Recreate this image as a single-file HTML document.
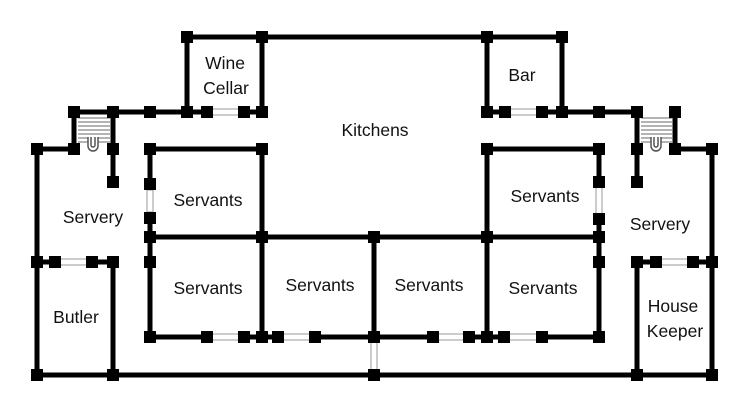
<!DOCTYPE html>
<html><head><style>body{margin:0;background:#fff}svg{display:block}text{font-family:"Liberation Sans",sans-serif;font-size:17.5px;fill:#111}</style></head><body>
<svg width="750" height="414" viewBox="0 0 750 414" xmlns="http://www.w3.org/2000/svg">
<g stroke="#000" stroke-width="5" fill="none" stroke-linecap="square">
<path d="M187 37H562M187 37V112M262 37V112M262 149V337M487 37V112M562 37V112"/>
<path d="M74 112H187M187 112H212M241 112H262M487 112H508M538 112H637M74 112V149M113 112V182M637 112V182M675 112V149"/>
<path d="M37 149H74M675 149H712M37 149V375M712 149V375M37 375H712"/>
<path d="M150 149H262M487 149H599M150 149V190M150 212V337M599 149V186M599 215V337M150 237H599M374 237V340M487 149V337"/>
<path d="M150 337H210M240 337H438M466 337H508M538 337H599"/>
<path d="M37 262H58M88 262H113M113 262V375M637 262H659M690 262H712M637 262V375"/>
</g>
<g stroke="#999" stroke-width="1" fill="#fff">
<rect x="212" y="109" width="29" height="6"/><rect x="508" y="109" width="30" height="6"/>
<rect x="147" y="190" width="6" height="22"/><rect x="596" y="186" width="6" height="29"/>
<rect x="210" y="334" width="30" height="6"/><rect x="281" y="334" width="30" height="6"/>
<rect x="438" y="334" width="28" height="6"/><rect x="508" y="334" width="30" height="6"/>
<rect x="371" y="340" width="6" height="30"/>
<rect x="58" y="259" width="30" height="6"/><rect x="659" y="259" width="31" height="6"/>
</g>
<g stroke="#888" stroke-width="1.2">
<path d="M78 118H110M78 122H110M78 126H110M78 130H110M78 134H110M78 138H110M78 142H110"/>
<path d="M641 118H672M641 122H672M641 126H672M641 130H672M641 134H672M641 138H672M641 142H672"/>
</g>
<g stroke="#555" stroke-width="1.5" fill="#fff">
<path d="M88 137V146a5 5 0 0 0 10 0V137M91 137V145a2 2 0 0 0 4 0V137"/>
<path d="M651 137V146a5 5 0 0 0 10 0V137M654 137V145a2 2 0 0 0 4 0V137"/>
</g>
<g fill="#000">
<rect x="181" y="31" width="12" height="12"/><rect x="256" y="31" width="12" height="12"/><rect x="481" y="31" width="12" height="12"/><rect x="556" y="31" width="12" height="12"/>
<rect x="68" y="106" width="12" height="12"/><rect x="107" y="106" width="12" height="12"/><rect x="144" y="106" width="12" height="12"/><rect x="181" y="106" width="12" height="12"/><rect x="201" y="106" width="12" height="12"/><rect x="238" y="106" width="12" height="12"/><rect x="256" y="106" width="12" height="12"/>
<rect x="481" y="106" width="12" height="12"/><rect x="499" y="106" width="12" height="12"/><rect x="536" y="106" width="12" height="12"/><rect x="556" y="106" width="12" height="12"/><rect x="593" y="106" width="12" height="12"/><rect x="631" y="106" width="12" height="12"/><rect x="669" y="106" width="12" height="12"/>
<rect x="31" y="143" width="12" height="12"/><rect x="68" y="143" width="12" height="12"/><rect x="107" y="143" width="12" height="12"/><rect x="144" y="143" width="12" height="12"/><rect x="256" y="143" width="12" height="12"/><rect x="481" y="143" width="12" height="12"/><rect x="593" y="143" width="12" height="12"/><rect x="631" y="143" width="12" height="12"/><rect x="669" y="143" width="12" height="12"/><rect x="706" y="143" width="12" height="12"/>
<rect x="107" y="176" width="12" height="12"/><rect x="631" y="176" width="12" height="12"/>
<rect x="144" y="178" width="12" height="12"/><rect x="144" y="212" width="12" height="12"/><rect x="593" y="176" width="12" height="12"/><rect x="593" y="213" width="12" height="12"/>
<rect x="144" y="231" width="12" height="12"/><rect x="256" y="231" width="12" height="12"/><rect x="368" y="231" width="12" height="12"/><rect x="481" y="231" width="12" height="12"/><rect x="593" y="231" width="12" height="12"/>
<rect x="144" y="256" width="12" height="12"/><rect x="593" y="256" width="12" height="12"/>
<rect x="31" y="256" width="12" height="12"/><rect x="49" y="256" width="12" height="12"/><rect x="86" y="256" width="12" height="12"/><rect x="107" y="256" width="12" height="12"/>
<rect x="631" y="256" width="12" height="12"/><rect x="650" y="256" width="12" height="12"/><rect x="687" y="256" width="12" height="12"/><rect x="706" y="256" width="12" height="12"/>
<rect x="144" y="331" width="12" height="12"/><rect x="201" y="331" width="12" height="12"/><rect x="238" y="331" width="12" height="12"/><rect x="256" y="331" width="12" height="12"/><rect x="272" y="331" width="12" height="12"/><rect x="309" y="331" width="12" height="12"/><rect x="368" y="331" width="12" height="12"/><rect x="427" y="331" width="12" height="12"/><rect x="463" y="331" width="12" height="12"/><rect x="481" y="331" width="12" height="12"/><rect x="498" y="331" width="12" height="12"/><rect x="536" y="331" width="12" height="12"/><rect x="593" y="331" width="12" height="12"/>
<rect x="31" y="369" width="12" height="12"/><rect x="107" y="369" width="12" height="12"/><rect x="368" y="369" width="12" height="12"/><rect x="631" y="369" width="12" height="12"/><rect x="706" y="369" width="12" height="12"/>
</g>
<text x="225" y="69" text-anchor="middle">Wine</text><text x="226" y="94" text-anchor="middle">Cellar</text>
<text x="522" y="81" text-anchor="middle">Bar</text>
<text x="375" y="136" text-anchor="middle">Kitchens</text>
<text x="208" y="206" text-anchor="middle">Servants</text>
<text x="545" y="202" text-anchor="middle">Servants</text>
<text x="93" y="223" text-anchor="middle">Servery</text>
<text x="660" y="230" text-anchor="middle">Servery</text>
<text x="208" y="294" text-anchor="middle">Servants</text>
<text x="320" y="291" text-anchor="middle">Servants</text>
<text x="429" y="291" text-anchor="middle">Servants</text>
<text x="543" y="294" text-anchor="middle">Servants</text>
<text x="76" y="323" text-anchor="middle">Butler</text>
<text x="673" y="312" text-anchor="middle">House</text>
<text x="675" y="337" text-anchor="middle">Keeper</text>
</svg>
</body></html>
